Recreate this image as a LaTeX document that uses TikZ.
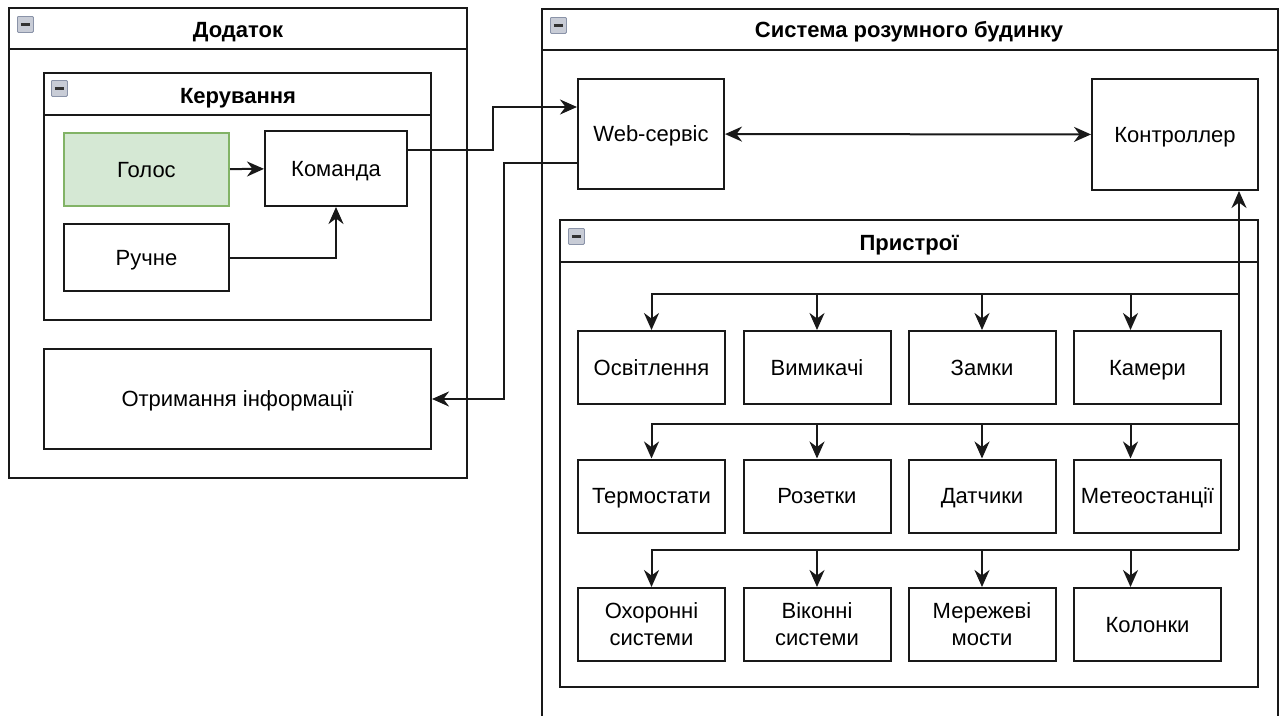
\documentclass[tikz,border=0pt]{standalone}
\usepackage{fontspec}
\setmainfont{Liberation Sans}
\usetikzlibrary{arrows.meta,calc}
\definecolor{greenfill}{HTML}{D5E8D4}
\definecolor{greenline}{HTML}{82B366}
\definecolor{iconfill}{HTML}{C8CCD6}
\definecolor{iconline}{HTML}{8A93A8}
\tikzset{
  line/.style={line width=2pt, draw=black!90},
  box/.style={line, rectangle, inner sep=2pt, align=center,
    font=\fontsize{22}{27}\selectfont, text=black},
  onel/.style={text height=15.5pt, text depth=0pt},
  frame/.style={line, rectangle, inner sep=0pt},
  title/.style={font=\bfseries\fontsize{22}{27}\selectfont, text=black,
    text height=15.5pt, text depth=0pt},
  tip/.tip={Stealth[length=17pt,width=15pt,inset=5.5pt]},
  arr/.style={line, -tip},
  biarr/.style={line, tip-tip},
  icon/.style={draw=iconline, fill=iconfill, line width=0.8pt, rounded corners=1pt,
    minimum width=16pt, minimum height=16pt, inner sep=0pt, anchor=north west,
    path picture={\draw[line width=2.2pt, black!80]
      ($(path picture bounding box.west)+(3.5,0)$) -- ($(path picture bounding box.east)+(-3.5,0)$);}}
}
\begin{document}
\begin{tikzpicture}[x=1pt,y=-1pt]
\useasboundingbox (0,0) rectangle (1284,715);
\clip (0,0) rectangle (1284,715);
\fill[white] (0,0) rectangle (1284,715);

% ---------- Application ----------
\node[frame, minimum width=458pt, minimum height=470pt] (app) at (238,243) {};
\draw[line] ($(app.north west)+(0,42)$) -- ($(app.north east)+(0,42)$);
\node[icon] (appicon) at ($(app.north west)+(9,9)$) {};
\node[title] (apptitle) at (238,29.5) {Додаток};

\node[frame, minimum width=387pt, minimum height=247pt] (ctl) at (237.5,196.5) {};
\draw[line] ($(ctl.north west)+(0,43)$) -- ($(ctl.north east)+(0,43)$);
\node[icon] (ctlicon) at ($(ctl.north west)+(8,8)$) {};
\node[title] (ctltitle) at (238,96) {Керування};

\node[box, onel, fill=greenfill, draw=greenline, minimum width=165pt, minimum height=73pt] (voice) at (146.5,169.5) {Голос};
\node[box, onel, minimum width=142pt, minimum height=75pt] (cmd) at (336,168.5) {Команда};
\node[box, onel, minimum width=165pt, minimum height=67pt] (manual) at (146.5,257.5) {Ручне};
\node[box, onel, minimum width=387pt, minimum height=100pt] (info) at (237.5,399) {Отримання інформації};

\draw[arr] (voice) -- (cmd);
\draw[arr] (manual.east) -| (cmd.south);

% ---------- Smart home system ----------
\node[frame, minimum width=736pt, minimum height=760pt, anchor=north west] (sys) at (541,8) {};
\draw[line] ($(sys.north west)+(0,42)$) -- ($(sys.north east)+(0,42)$);
\node[icon] (sysicon) at ($(sys.north west)+(9,9)$) {};
\node[title] (systitle) at (909,29.5) {Система розумного будинку};

\node[box, onel, minimum width=146pt, minimum height=110pt] (web) at (651,134) {Web-сервіс};
\node[box, onel, minimum width=166pt, minimum height=111pt] (ctrl) at (1175,134.5) {Контроллер};
\draw[biarr] (web) -- (ctrl);

% links between the application and the web service
\draw[arr] ($(cmd.east)+(0,-18.5)$) -- ++(85,0) |- ($(web.west)+(0,-27)$);
\draw[arr] ($(web.west)+(0,29)$) -- ++(-73,0) |- (info.east);

% ---------- Devices ----------
\node[frame, minimum width=698pt, minimum height=467pt] (dev) at (909,453.5) {};
\draw[line] ($(dev.north west)+(0,43)$) -- ($(dev.north east)+(0,43)$);
\node[icon] (devicon) at ($(dev.north west)+(9,9)$) {};
\node[title] (devtitle) at (909,242.5) {Пристрої};

\tikzset{dev/.style={box, minimum width=147pt, minimum height=73pt}}
\node[dev, onel] (d11) at (651.5,367.5) {Освітлення};
\node[dev, onel] (d12) at (817,367.5)   {Вимикачі};
\node[dev, onel] (d13) at (982,367.5)   {Замки};
\node[dev, onel] (d14) at (1147.5,367.5){Камери};
\node[dev, onel] (d21) at (651.5,496)   {Термостати};
\node[dev, onel] (d22) at (817,496)     {Розетки};
\node[dev, onel] (d23) at (982,496)     {Датчики};
\node[dev, onel] (d24) at (1147.5,496)  {Метеостанції};
\node[dev] (d31) at (651.5,624.5) {Охоронні\\системи};
\node[dev] (d32) at (817,624.5)   {Віконні\\системи};
\node[dev] (d33) at (982,624.5)   {Мережеві\\мости};
\node[dev, onel] (d34) at (1147.5,624.5){Колонки};

% controller bus
\coordinate (bus1) at (1239,294);
\coordinate (bus2) at (1239,424);
\coordinate (bus3) at (1239,550);
\draw[arr] (bus3) -- (ctrl.south -| bus3);
\foreach \r/\b in {1/bus1,2/bus2,3/bus3}{
  \draw[arr] (\b) -| (d\r1.north);
  \draw[arr] (\b) -| (d\r2.north);
  \draw[arr] (\b) -| (d\r3.north);
  \draw[arr] (\b) -| ($(d\r4.north)+(-17,0)$);
}
\end{tikzpicture}
\end{document}
